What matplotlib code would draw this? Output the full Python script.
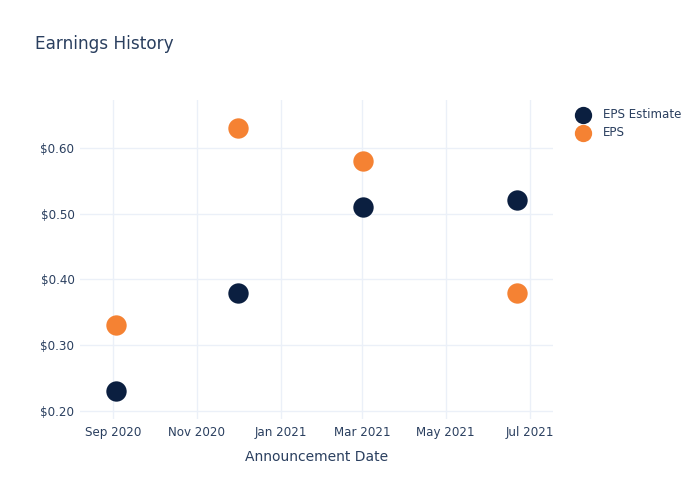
import numpy as np
import pandas as pd
import matplotlib
matplotlib.use("Agg")
import matplotlib.pyplot as plt
import matplotlib.dates as mdates
from matplotlib.ticker import FuncFormatter

# data
dates = pd.to_datetime(["2020-09-03", "2020-12-01", "2021-03-02", "2021-06-22"])
eps_estimate = [0.23, 0.38, 0.51, 0.52]
eps_actual = [0.33, 0.63, 0.58, 0.38]

text_color = "#2a3f5f"
grid_color = "#ebf0f8"
navy = "#0b1f40"
orange = "#f58233"

plt.rcParams["font.family"] = "DejaVu Sans"

fig = plt.figure(figsize=(7, 5), dpi=100)
ax = fig.add_axes([80 / 700, 1 - 419 / 500, (553 - 80) / 700, (419 - 100) / 500])

ax.scatter(dates, eps_estimate, s=215, color=navy, label="EPS Estimate", zorder=3, linewidths=0)
ax.scatter(dates, eps_actual, s=215, color=orange, label="EPS", zorder=3, linewidths=0)

ax.set_xlim(pd.Timestamp("2020-08-08"), pd.Timestamp("2021-07-18"))
ax.set_ylim(0.1878, 0.6725)

ax.xaxis.set_major_locator(mdates.MonthLocator(bymonth=[1, 3, 5, 7, 9, 11]))
ax.xaxis.set_major_formatter(mdates.DateFormatter("%b %Y"))
ax.set_yticks([0.2, 0.3, 0.4, 0.5, 0.6])
ax.yaxis.set_major_formatter(FuncFormatter(lambda v, p: f"${v:.2f}"))

for s in ax.spines.values():
    s.set_visible(False)
ax.grid(True, color=grid_color, linewidth=1)
ax.set_axisbelow(True)
ax.tick_params(length=0, labelsize=8.6, labelcolor=text_color)
ax.tick_params(axis="y", pad=4)
ax.tick_params(axis="x", pad=5)

ax.set_xlabel("Announcement Date", fontsize=10, color=text_color, labelpad=8)

fig.text(35 / 700, 1 - 44 / 500, "Earnings History", fontsize=12.2, color=text_color, va="center")

leg = ax.legend(loc="upper left", bbox_to_anchor=(1.028, 0.99), frameon=False,
                fontsize=8.6, labelcolor=text_color, handletextpad=0.65,
                borderaxespad=0, labelspacing=0.45, markerscale=0.85)

fig.savefig("out.png", dpi=100)
